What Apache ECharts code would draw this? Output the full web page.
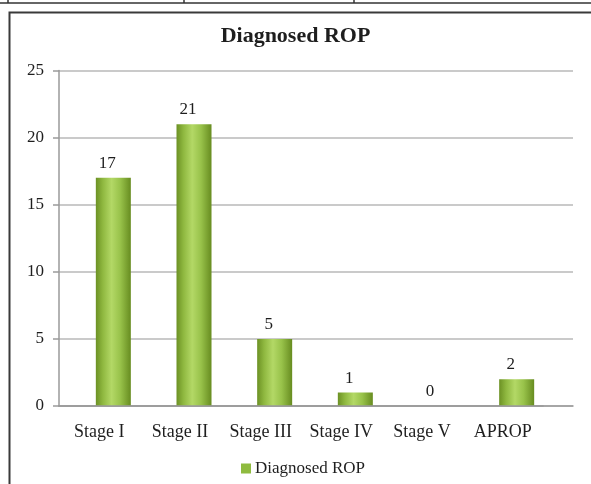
<!DOCTYPE html>
<html>
<head>
<meta charset="utf-8">
<script src="https://cdn.jsdelivr.net/npm/echarts@6/dist/echarts.min.js"></script>
<style>
html,body{margin:0;padding:0;background:#fff;}
#c{width:591px;height:484px;}
</style>
</head>
<body>
<div id="c"></div>
<script>
const categories = ['Stage I', 'Stage II', 'Stage III', 'Stage IV', 'Stage V', 'APROP'];
const diagnosedROP = [17, 21, 5, 1, 0, 2];
const yTicks = { min: 0, max: 25, interval: 5 };

const SERIF = '"Liberation Serif", "DejaVu Serif", serif';
const chart = echarts.init(document.getElementById('c'), null, { renderer: 'canvas' });

const barColor = new echarts.graphic.LinearGradient(0, 0, 1, 0, [
  { offset: 0, color: '#6c9124' },
  { offset: 0.2, color: '#8fb840' },
  { offset: 0.45, color: '#b3d866' },
  { offset: 0.7, color: '#98c24a' },
  { offset: 1, color: '#678c20' }
]);

chart.setOption({
  animation: false,
  backgroundColor: '#fff',
  title: {
    text: 'Diagnosed ROP',
    left: 'center',
    top: 20,
    textStyle: { fontFamily: SERIF, fontSize: 22, fontWeight: 'bold', color: '#1e1e1e' }
  },
  graphic: [
    { type: 'line', shape: { x1: 0, y1: 3, x2: 591, y2: 3 }, style: { stroke: '#333', lineWidth: 1.5 } },
    { type: 'line', shape: { x1: 8, y1: 0, x2: 8, y2: 3 }, style: { stroke: '#333', lineWidth: 1.5 } },
    { type: 'line', shape: { x1: 184, y1: 0, x2: 184, y2: 3 }, style: { stroke: '#333', lineWidth: 1.5 } },
    { type: 'line', shape: { x1: 354, y1: 0, x2: 354, y2: 3 }, style: { stroke: '#333', lineWidth: 1.5 } },
    { type: 'polyline', shape: { points: [[9.5, 490], [9.5, 12.5], [600, 12.5]] }, style: { stroke: '#3a3a3a', lineWidth: 2, fill: null } }
  ],
  legend: {
    data: [{ name: 'Diagnosed ROP', itemStyle: { color: '#8fbb3f' } }],
    left: 236,
    top: 455,
    icon: 'rect',
    itemWidth: 10,
    itemHeight: 10,
    itemGap: 4,
    textStyle: { fontFamily: SERIF, fontSize: 17, color: '#1e1e1e', padding: [0, 0, 0, -1] }
  },
  grid: [
    { left: 59, top: 70.5, width: 484, height: 335.5 },
    { left: 59, top: 70.5, width: 514, height: 335.5 }
  ],
  xAxis: [
    {
      type: 'category', gridIndex: 0, data: categories, boundaryGap: true,
      axisLine: { lineStyle: { color: '#9a9a9a', width: 1.5 } },
      axisTick: { length: 6, lineStyle: { color: '#9a9a9a', width: 1.5 } },
      axisLabel: { fontFamily: SERIF, fontSize: 18, color: '#1e1e1e', margin: 17, interval: 0, hideOverlap: false },
      z: 3
    },
    {
      type: 'value', gridIndex: 1, min: 0, max: 1,
      axisLine: { show: true, lineStyle: { color: '#9a9a9a', width: 1.5 } },
      axisTick: { show: false }, axisLabel: { show: false }, splitLine: { show: false }
    }
  ],
  yAxis: [
    {
      type: 'value', gridIndex: 0, min: yTicks.min, max: yTicks.max, interval: yTicks.interval,
      axisLine: { show: true, lineStyle: { color: '#9a9a9a', width: 1.5 } },
      axisTick: { show: true, length: 6, lineStyle: { color: '#9a9a9a', width: 1.5 } },
      axisLabel: { fontFamily: SERIF, fontSize: 17, color: '#1e1e1e', margin: 15 },
      splitLine: { show: false },
      z: 3
    },
    {
      type: 'value', gridIndex: 1, min: yTicks.min, max: yTicks.max, interval: yTicks.interval,
      axisLine: { show: false }, axisTick: { show: false }, axisLabel: { show: false },
      splitLine: { show: true, lineStyle: { color: '#b8b8b8', width: 1.5 } }
    }
  ],
  series: [
    {
      name: 'ghost', type: 'bar', xAxisIndex: 0, yAxisIndex: 0, barWidth: 35,
      data: categories.map(() => '-'), silent: true
    },
    {
      name: 'Diagnosed ROP', type: 'bar', xAxisIndex: 0, yAxisIndex: 0,
      barWidth: 35, barGap: '-20%',
      data: diagnosedROP,
      itemStyle: { color: barColor },
      label: {
        show: true, position: 'top', distance: 6, offset: [-6, 0],
        fontFamily: SERIF, fontSize: 17, color: '#1e1e1e'
      },
      z: 2
    }
  ]
});
</script>
</body>
</html>
